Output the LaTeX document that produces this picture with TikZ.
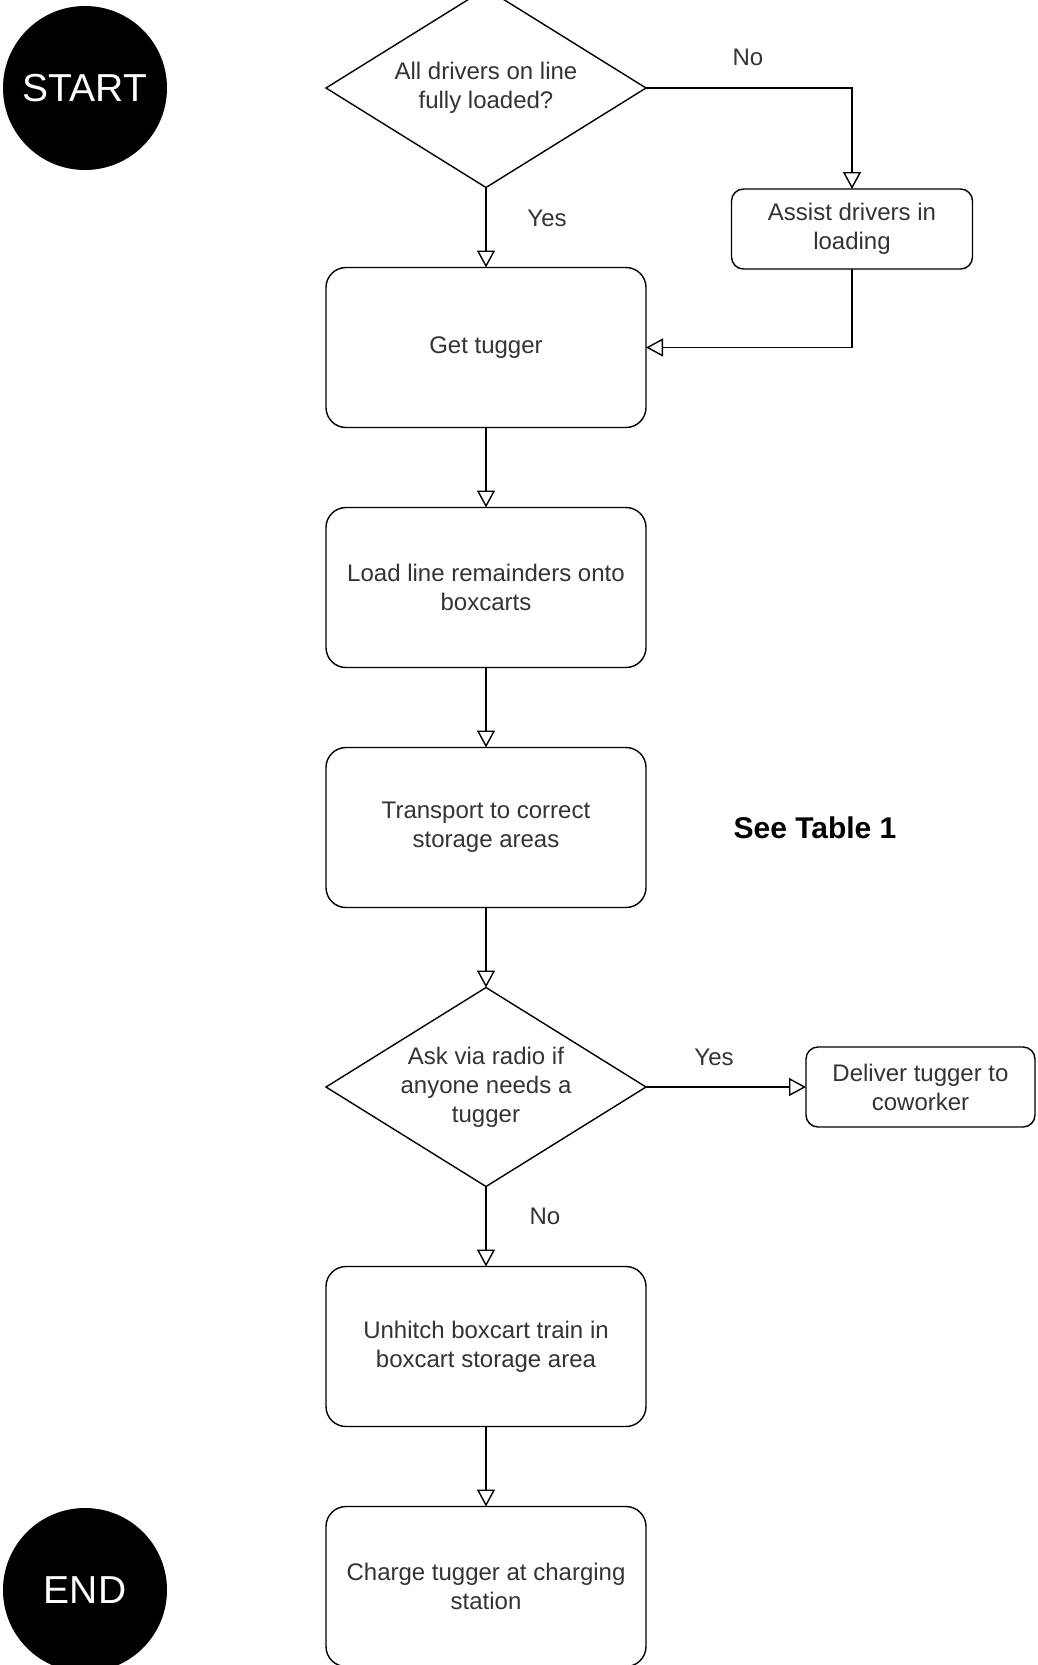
\documentclass[tikz,border=0pt]{standalone}
\usepackage{fontspec}
\setmainfont{Liberation Sans}
\usetikzlibrary{arrows.meta,positioning,shapes.geometric}

\begin{document}
\begin{tikzpicture}[
  x=1pt, y=-1pt, node distance=80pt,
  font=\fontsize{24}{29}\selectfont, text=black!80,
  >={Triangle[open, length=17pt, width=18pt]},
  stepbox/.style={rectangle, rounded corners=20pt, draw, line width=1.4pt, outer sep=0pt, minimum width=320pt, minimum height=160pt, align=center, inner sep=0pt},
  sidebox/.style={rectangle, rounded corners=12pt, draw, line width=1.4pt, outer sep=0pt, minimum width=241pt, minimum height=80pt, align=center, inner sep=0pt},
  ask/.style={diamond, draw, line width=1.4pt, outer sep=0pt, minimum width=320pt, minimum height=199pt, aspect=1.6, align=center, inner sep=0pt},
  term/.style={circle, fill=black, text=white, minimum size=164pt, inner sep=0pt, font=\fontsize{39}{44}\selectfont},
  lbl/.style={inner sep=0pt},
  flow/.style={->, line width=1.4pt},
]
  \path[use as bounding box, fill=white] (0,0) rectangle (1037,1665);

  \node[term] (start) at (85,88) {START};
  \node[term] (end) at (85,1590) {END};

  \node[ask] (loaded) at (486,88) {All drivers on line\\fully loaded?};
  \node[stepbox, below=of loaded] (get) {Get tugger};
  \node[stepbox, below=of get] (load) {Load line remainders onto\\boxcarts};
  \node[stepbox, below=of load] (transport) {Transport to correct\\storage areas};
  \node[ask, below=of transport] (radio) {Ask via radio if\\anyone needs a\\tugger};
  \node[stepbox, below=of radio] (unhitch) {Unhitch boxcart train in\\boxcart storage area};
  \node[stepbox, below=of unhitch] (charge) {Charge tugger at charging\\station};

  \node[sidebox] (assist) at (852,229) {Assist drivers in\\loading};
  \node[sidebox, minimum width=229pt, right=160pt of radio] (deliver) {Deliver tugger to\\coworker};

  \node[font=\bfseries\fontsize{30}{36}\selectfont, text=black] (table) at (815,828) {See Table 1};

  \node[lbl] (noA) at (748,57) {No};
  \node[lbl] (yesA) at (547,218) {Yes};
  \node[lbl] (yesB) at (714,1057) {Yes};
  \node[lbl] (noB) at (545,1216) {No};

  \draw[flow] (loaded) -- (get);
  \draw[flow] (loaded.east) -| (assist.north);
  \draw[flow] (assist.south) |- (get.east);
  \draw[flow] (get) -- (load);
  \draw[flow] (load) -- (transport);
  \draw[flow] (transport) -- (radio);
  \draw[flow] (radio.east) -- (deliver.west);
  \draw[flow] (radio) -- (unhitch);
  \draw[flow] (unhitch) -- (charge);
\end{tikzpicture}
\end{document}
